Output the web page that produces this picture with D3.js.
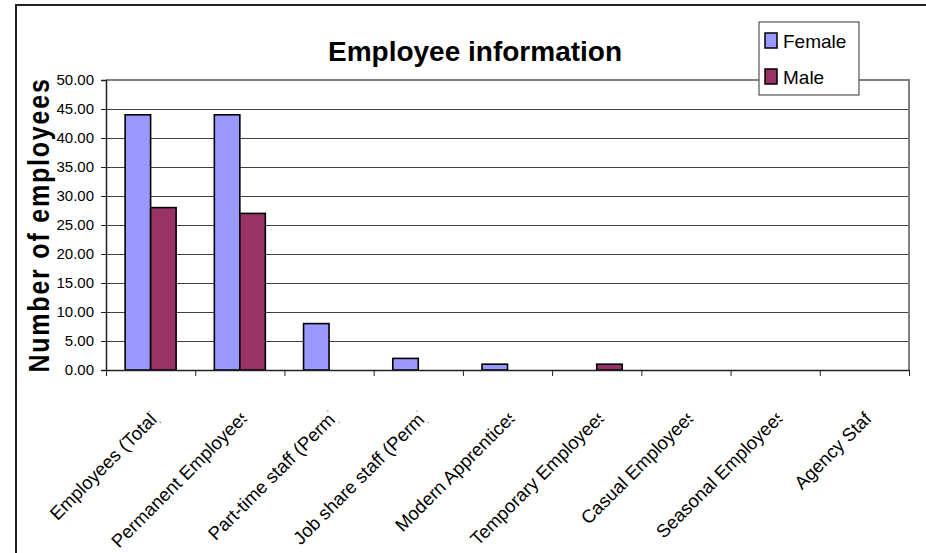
<!DOCTYPE html>
<html lang="en">
<meta charset="utf-8">
<style type="text/css">
  body { margin: 0; background: #fff; }
  svg { display: block; font-family: "Liberation Sans", Arial, sans-serif; }
  .grid line { stroke: #404040; stroke-width: 1px; }
  .grid path { display: none; }
  .yaxis path, .yaxis line, .xaxis path, .xaxis line { stroke: #222; }
  .yaxis text { font-size: 15px; fill: #000; }
</style>
<body>
<script src="https://d3js.org/d3.v7.min.js"></script>
<script>
var categories = ["Employees (Total)", "Permanent Employees", "Part-time staff (Perm)",
    "Job share staff (Perm)", "Modern Apprentices", "Temporary Employees",
    "Casual Employees", "Seasonal Employees", "Agency Staff"];
var series = ["Female", "Male"];
var female = [44, 44, 8, 2, 1, 0, 0, 0, 0];
var male = [28, 27, 0, 0, 0, 1, 0, 0, 0];
var yTicks = [0, 5, 10, 15, 20, 25, 30, 35, 40, 45, 50];
var colors = { Female: "#9999ff", Male: "#993366" };

var width = 926, height = 553;
var plotL = 106, plotR = 909, plotT = 80, plotB = 370;

var svg = d3.select("body").append("svg")
    .attr("width", width)
    .attr("height", height);

// chart area border (runs off the right/bottom of the picture)
svg.append("rect")
    .attr("x", 16).attr("y", 5)
    .attr("width", 1000).attr("height", 1000)
    .attr("fill", "#fff")
    .attr("stroke", "#222")
    .attr("stroke-width", 2);

var x = d3.scaleBand().domain(categories).range([plotL, plotR]).padding(0);
var x1 = d3.scaleBand().domain(series).range([0, x.bandwidth()])
    .paddingInner(0).paddingOuter(0.75);
var y = d3.scaleLinear().domain([0, 50]).range([plotB, plotT]);
var xi = d3.scaleLinear().domain([0, categories.length]).range([plotL, plotR]);

// gridlines
svg.append("g")
    .attr("class", "grid")
    .attr("transform", "translate(" + plotL + ",0)")
    .call(d3.axisLeft(y).tickValues(yTicks).tickSize(-(plotR - plotL)).tickFormat(""));

// plot area border top/right
svg.append("path")
    .attr("d", "M" + plotL + "," + plotT + "H" + plotR + "V" + plotB)
    .attr("fill", "none")
    .attr("stroke", "#808080")
    .attr("stroke-width", 2);

// bars
var rows = categories.map(function (c, i) {
    return { cat: c, values: [{ key: "Female", v: female[i] }, { key: "Male", v: male[i] }] };
});
var groups = svg.selectAll(".cat")
    .data(rows)
    .enter().append("g")
    .attr("class", "cat")
    .attr("transform", function (d) { return "translate(" + x(d.cat) + ",0)"; });
groups.selectAll("rect")
    .data(function (d) { return d.values.filter(function (v) { return v.v > 0; }); })
    .enter().append("rect")
    .attr("x", function (d) { return x1(d.key); })
    .attr("y", function (d) { return y(d.v); })
    .attr("width", x1.bandwidth())
    .attr("height", function (d) { return y(0) - y(d.v); })
    .attr("fill", function (d) { return colors[d.key]; })
    .attr("stroke", "#000")
    .attr("stroke-width", 1.6);

// y axis
svg.append("g")
    .attr("class", "yaxis")
    .attr("transform", "translate(" + plotL + ",0)")
    .call(d3.axisLeft(y).tickValues(yTicks).tickSize(5).tickPadding(7).tickFormat(d3.format(".2f")))
    .call(function (g) { g.select(".domain").attr("stroke-width", 1.5); });

// x axis with ticks between categories
svg.append("g")
    .attr("class", "xaxis")
    .attr("transform", "translate(0," + plotB + ")")
    .call(d3.axisBottom(xi).ticks(categories.length).tickSize(6).tickSizeOuter(0).tickFormat(""))
    .call(function (g) { g.select(".domain").attr("stroke-width", 1.5); });

// category labels, rotated and clipped at their end like the original
svg.append("clipPath").attr("id", "labclip")
    .append("rect").attr("x", -400).attr("y", -40).attr("width", 400).attr("height", 80);
svg.selectAll(".xlab")
    .data(categories)
    .enter().append("g")
    .attr("class", "xlab")
    .attr("transform", function (d) {
        return "translate(" + (x(d) + x.bandwidth() / 2 + 8) + ",420) rotate(-45)";
    })
    .append("text")
    .attr("x", 5)
    .attr("text-anchor", "end")
    .attr("clip-path", "url(#labclip)")
    .style("font-size", "18.5px")
    .text(function (d) { return d; });

// title
svg.append("text")
    .attr("x", 475).attr("y", 61)
    .attr("text-anchor", "middle")
    .style("font-size", "28px")
    .style("font-weight", "bold")
    .text("Employee information");

// y axis title
svg.append("text")
    .attr("transform", "translate(49,225) rotate(-90) scale(1,1.17)")
    .attr("text-anchor", "middle")
    .style("font-size", "25px")
    .style("font-weight", "bold")
    .style("letter-spacing", "1.8px")
    .text("Number of employees");

// legend
var legend = svg.append("g").attr("transform", "translate(759,22)");
legend.append("rect")
    .attr("width", 100).attr("height", 73)
    .attr("fill", "#fff")
    .attr("stroke", "#333")
    .attr("stroke-width", 1);
var li = legend.selectAll(".li")
    .data(series)
    .enter().append("g")
    .attr("transform", function (d, i) { return "translate(6," + (11 + i * 36) + ")"; });
li.append("rect")
    .attr("width", 12).attr("height", 15)
    .attr("fill", function (d) { return colors[d]; })
    .attr("stroke", "#000")
    .attr("stroke-width", 1.5);
li.append("text")
    .attr("x", 18).attr("y", 15)
    .style("font-size", "19px")
    .text(function (d) { return d; });
</script>
</body>
</html>
